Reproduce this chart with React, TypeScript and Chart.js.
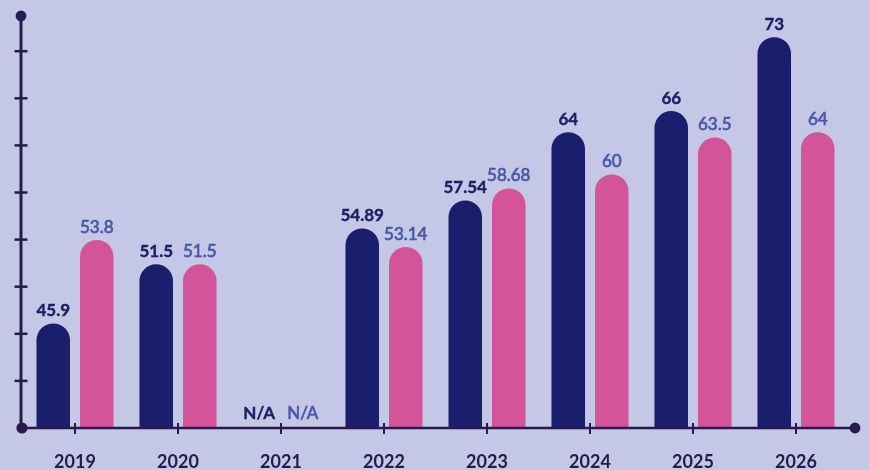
import React, { useEffect, useRef } from "react";
import { Chart, registerables } from "chart.js";

Chart.register(...registerables);

const years: string[] = ["2019", "2020", "2021", "2022", "2023", "2024", "2025", "2026"];
const seriesA: (number | null)[] = [45.9, 51.5, null, 54.89, 57.54, 64, 66, 73];
const seriesB: (number | null)[] = [53.8, 51.5, null, 53.14, 58.68, 60, 63.5, 64];
const missingLabel = "N/A";

const Y_MIN = 36;
const Y_MAX = 75;

const BG = "#c4c7e5";
const NAVY = "#1b1e6c";
const PINK = "#d45499";
const AXIS = "#261a4e";
const LABEL_A = "#1d1f63";
const LABEL_B = "#4a59a6";
const YEAR = "#231c4d";
const FONT = "Lato, 'Open Sans', sans-serif";

const decor = {
  id: "decor",
  beforeDraw(chart: any) {
    const { ctx, width, height } = chart;
    ctx.save();
    ctx.fillStyle = BG;
    ctx.fillRect(0, 0, width, height);
    ctx.restore();
  },
  afterDatasetsDraw(chart: any) {
    const { ctx, chartArea, scales } = chart;
    const xs = scales.x;
    const bottom = chartArea.bottom;
    const top = chartArea.top;
    const axisX = chartArea.left - 2.5;
    const axisRight = chartArea.right + 7.5;
    ctx.save();
    ctx.strokeStyle = AXIS;
    ctx.fillStyle = AXIS;
    ctx.lineWidth = 3;
    ctx.beginPath();
    ctx.moveTo(axisX, top);
    ctx.lineTo(axisX, bottom);
    ctx.stroke();
    ctx.lineWidth = 2.5;
    ctx.beginPath();
    ctx.moveTo(axisX, bottom);
    ctx.lineTo(axisRight, bottom);
    ctx.stroke();
    const step = (chartArea.height * 47.1) / 412;
    ctx.lineWidth = 2.5;
    for (let k = 1; k <= 8; k++) {
      const yy = bottom - k * step;
      ctx.beginPath();
      ctx.moveTo(axisX - 6.5, yy);
      ctx.lineTo(axisX + 6.5, yy);
      ctx.stroke();
    }
    ctx.lineWidth = 2;
    years.forEach((_, i) => {
      const px = xs.getPixelForValue(i);
      ctx.beginPath();
      ctx.moveTo(px, bottom - 5);
      ctx.lineTo(px, bottom + 6);
      ctx.stroke();
    });
    const dot = (x: number, y: number, r: number) => {
      ctx.beginPath();
      ctx.arc(x, y, r, 0, Math.PI * 2);
      ctx.fill();
    };
    dot(axisX, top, 5.4);
    dot(axisX + 1, bottom, 5.6);
    dot(axisRight, bottom, 5.4);

    ctx.fillStyle = YEAR;
    ctx.font = `700 18px ${FONT}`;
    ctx.textAlign = "center";
    ctx.textBaseline = "middle";
    years.forEach((yr, i) => {
      ctx.fillText(yr, xs.getPixelForValue(i), 462);
    });

    ctx.textBaseline = "alphabetic";
    chart.data.datasets.forEach((ds: any, di: number) => {
      const meta = chart.getDatasetMeta(di);
      const col = di === 0 ? LABEL_A : LABEL_B;
      ds.data.forEach((v: number | null, i: number) => {
        const el = meta.data[i];
        if (!el) return;
        const cx = el.x;
        const txt = v === null || v === undefined ? missingLabel : String(v);
        const ty = v === null || v === undefined ? bottom - 9 : el.y - 7;
        ctx.font = `${di === 0 ? "700" : "400"} 17px ${FONT}`;
        ctx.fillStyle = col;
        ctx.fillText(txt, cx, ty);
        ctx.strokeStyle = col;
        ctx.lineWidth = di === 0 ? 0.4 : 0.7;
        ctx.strokeText(txt, cx, ty);
      });
    });
    ctx.restore();
  },
};

export default function App() {
  const ref = useRef<HTMLCanvasElement | null>(null);
  useEffect(() => {
    if (!ref.current) return;
    const chart = new Chart(ref.current, {
      type: "bar",
      data: {
        labels: years,
        datasets: [
          {
            data: seriesA,
            backgroundColor: NAVY,
            borderRadius: { topLeft: 100, topRight: 100, bottomLeft: 0, bottomRight: 0 },
            borderSkipped: false,
            categoryPercentage: 0.845,
            barPercentage: 0.77,
          },
          {
            data: seriesB,
            backgroundColor: PINK,
            borderRadius: { topLeft: 100, topRight: 100, bottomLeft: 0, bottomRight: 0 },
            borderSkipped: false,
            categoryPercentage: 0.845,
            barPercentage: 0.77,
          },
        ],
      },
      options: {
        animation: false,
        responsive: true,
        maintainAspectRatio: false,
        layout: { padding: { left: 23.5, right: 21.5, top: 16, bottom: 42 } },
        plugins: { legend: { display: false }, tooltip: { enabled: false } },
        scales: {
          x: { display: false },
          y: { display: false, min: Y_MIN, max: Y_MAX },
        },
      },
      plugins: [decor],
    });
    let alive = true;
    if ((document as any).fonts) {
      Promise.all([
        (document as any).fonts.load("700 17px Lato"),
        (document as any).fonts.load("400 17px Lato"),
      ])
        .then(() => {
          if (alive) chart.update();
        })
        .catch(() => {});
    }
    return () => {
      alive = false;
      chart.destroy();
    };
  }, []);
  return (
    <div style={{ position: "fixed", left: 0, top: 0, width: 869, height: 470, background: BG }}>
      <canvas ref={ref} />
    </div>
  );
}
